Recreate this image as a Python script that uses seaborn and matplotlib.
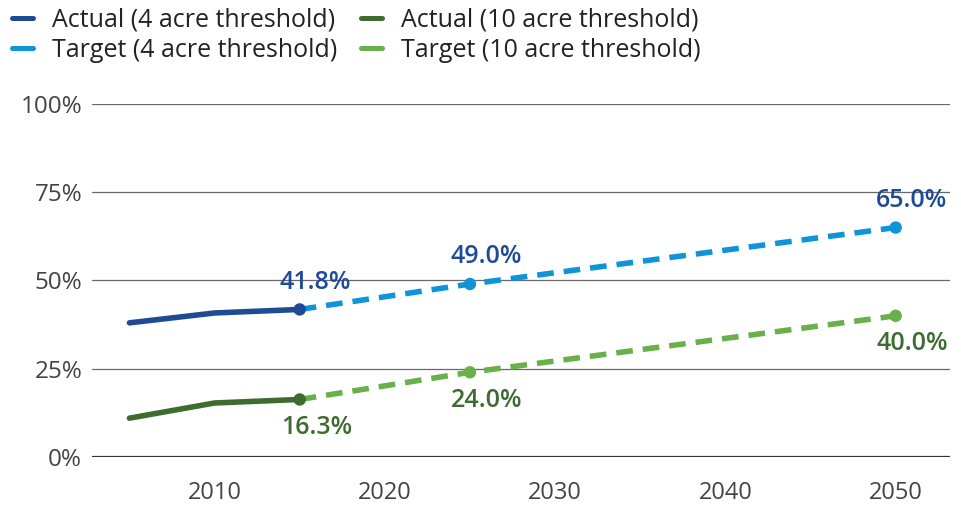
import pandas as pd
import seaborn as sns
import matplotlib.pyplot as plt
from matplotlib.lines import Line2D

# data
actual_years = [2005, 2010, 2015]
actual_4acre = [38.0, 40.8, 41.8]
actual_10acre = [11.0, 15.3, 16.3]

target_years = [2015, 2025, 2050]
target_4acre = [41.8, 49.0, 65.0]
target_10acre = [16.3, 24.0, 40.0]

legend_labels = ['Actual (4 acre threshold)', 'Target (4 acre threshold)',
                 'Actual (10 acre threshold)', 'Target (10 acre threshold)']
xticks = [2010, 2020, 2030, 2040, 2050]
yticks = [0, 25, 50, 75, 100]

c_act4 = '#1f4b96'
c_tgt4 = '#0f95d7'
c_act10 = '#3d6b30'
c_tgt10 = '#69b04a'

sns.set_style('white')
plt.rcParams['font.family'] = ['Open Sans', 'DejaVu Sans']

fig = plt.figure(figsize=(9.61, 5.08), dpi=100)
ax = fig.add_axes([0.0957, 0.1004, 0.893, 0.6949])

df_a = pd.DataFrame({'year': actual_years, 'a4': actual_4acre, 'a10': actual_10acre})
df_t = pd.DataFrame({'year': target_years, 't4': target_4acre, 't10': target_10acre})

dash = (0, (3.0, 1.8))
sns.lineplot(data=df_t, x='year', y='t4', ax=ax, color=c_tgt4, lw=4, linestyle=dash)
sns.lineplot(data=df_t, x='year', y='t10', ax=ax, color=c_tgt10, lw=4, linestyle=dash)
sns.lineplot(data=df_a, x='year', y='a4', ax=ax, color=c_act4, lw=4)
sns.lineplot(data=df_a, x='year', y='a10', ax=ax, color=c_act10, lw=4)

# end-point markers
sns.scatterplot(x=target_years[1:], y=target_4acre[1:], ax=ax, color=c_tgt4, s=80, edgecolor='none', zorder=5)
sns.scatterplot(x=target_years[1:], y=target_10acre[1:], ax=ax, color=c_tgt10, s=80, edgecolor='none', zorder=5)
sns.scatterplot(x=actual_years[-1:], y=actual_4acre[-1:], ax=ax, color=c_act4, s=80, edgecolor='none', zorder=6)
sns.scatterplot(x=actual_years[-1:], y=actual_10acre[-1:], ax=ax, color=c_act10, s=80, edgecolor='none', zorder=6)

# value labels
lab_kw = dict(textcoords='offset points', ha='center', va='center', fontsize=18, fontweight='semibold')
for x, y in [(actual_years[-1], actual_4acre[-1]), (target_years[1], target_4acre[1]),
             (target_years[2], target_4acre[2])]:
    ax.annotate(f'{y:.1f}%', (x, y), xytext=(11.5, 19.5), color=c_act4, **lab_kw)
for x, y in [(actual_years[-1], actual_10acre[-1]), (target_years[1], target_10acre[1]),
             (target_years[2], target_10acre[2])]:
    ax.annotate(f'{y:.1f}%', (x, y), xytext=(12, -20), color=c_act10, **lab_kw)

ax.set_xlim(2002.8, 2053.2)
ax.set_ylim(0, 100)
ax.set_xticks(xticks)
ax.set_yticks(yticks)
ax.set_yticklabels([f'{v}%' for v in yticks])
ax.set_xlabel('')
ax.set_ylabel('')
for v in yticks[1:]:
    ax.axhline(v, color='#6a6a6a', lw=0.9, zorder=0)
ax.axhline(0, color='#333333', lw=1.6, zorder=1)
for s in ax.spines.values():
    s.set_visible(False)
ax.tick_params(axis='x', length=0, pad=17, labelsize=17, labelcolor='#444444')
ax.tick_params(axis='y', length=0, pad=7, labelsize=17.5, labelcolor='#444444')

handles = [Line2D([], [], color=c, lw=3.6) for c in [c_act4, c_tgt4, c_act10, c_tgt10]]
fig.legend(handles, legend_labels, loc='upper left', bbox_to_anchor=(12 / 961, 0.985), ncol=2,
           frameon=False, fontsize=18, handlelength=0.84, handletextpad=0.76,
           columnspacing=0.95, labelspacing=0.2, borderpad=0, borderaxespad=0,
           labelcolor='#222222')

fig.savefig('out.png', dpi=100)
